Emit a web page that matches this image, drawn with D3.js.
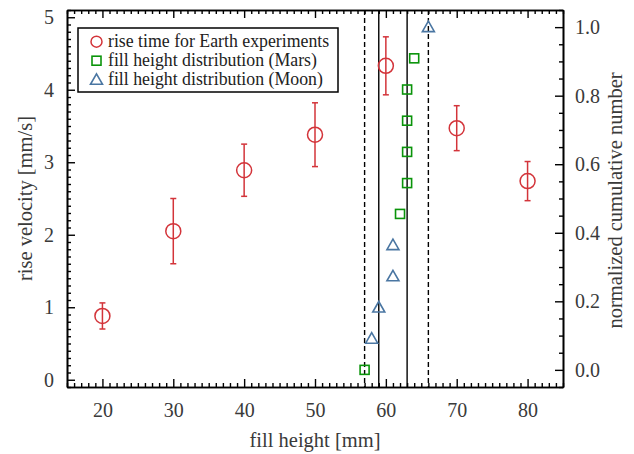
<!DOCTYPE html>
<html><head><meta charset="utf-8">
<script src="https://cdn.jsdelivr.net/npm/d3@7"></script>
<style>body{margin:0;background:#fff}svg{display:block}text{font-family:"Liberation Serif","DejaVu Serif",serif}</style>
</head><body>
<script>
// Data
const earthHeight = [20, 30, 40, 50, 60, 70, 80];
const earthVelocity = [0.88, 2.05, 2.89, 3.38, 4.33, 3.47, 2.74];
const earthError = [0.18, 0.45, 0.36, 0.44, 0.40, 0.31, 0.27];
const marsHeight = [57, 62, 63, 63, 63, 63, 64];
const marsCum = [0.0, 0.455, 0.545, 0.636, 0.727, 0.818, 0.909];
const moonHeight = [58, 59, 61, 61, 66];
const moonCum = [0.091, 0.182, 0.273, 0.364, 1.0];
const solidLines = [59, 63];
const dashedLines = [57, 66];
const xTicks = [20, 30, 40, 50, 60, 70, 80];
const yLeftTicks = [0, 1, 2, 3, 4, 5];
const yRightTicks = [0.0, 0.2, 0.4, 0.6, 0.8, 1.0];
const legendLabels = ["rise time for Earth experiments", "fill height distribution (Mars)", "fill height distribution (Moon)"];

const W = 634, H = 454;
const m = {l: 67, r: 634 - 563, t: 10, b: 454 - 387};
const red = "#d3343a", green = "#0a940a", blue = "#4a76a2", txt = "#3a3a3a";

const svg = d3.select("body").append("svg").attr("width", W).attr("height", H);
const x = d3.scaleLinear().domain([15, 85]).range([m.l, W - m.r]);
const yL = d3.scaleLinear().domain([-0.1, 5.1]).range([H - m.b, m.t]);
const yR = d3.scaleLinear().domain([-0.05, 1.05]).range([H - m.b, m.t]);

// vertical reference lines
const g = svg.append("g");
g.selectAll("line.solid").data(solidLines).join("line")
  .attr("x1", d => x(d)).attr("x2", d => x(d)).attr("y1", m.t).attr("y2", H - m.b)
  .attr("stroke", "#000").attr("stroke-width", 1.4);
g.selectAll("line.dash").data(dashedLines).join("line")
  .attr("x1", d => x(d)).attr("x2", d => x(d)).attr("y1", m.t).attr("y2", H - m.b)
  .attr("stroke", "#000").attr("stroke-width", 1.4).attr("stroke-dasharray", "5,3");

// axes
const tickFont = 20;
function style(sel) {
  sel.selectAll("path").attr("stroke", "#000").attr("stroke-width", 1.6);
  sel.selectAll("line").attr("stroke", "#000").attr("stroke-width", 1.4);
  sel.selectAll("text").attr("fill", txt).attr("font-size", tickFont).attr("font-family", "Liberation Serif");
}
const xMinor = d3.range(15, 86, 1).filter(v => v % 10 !== 0);
const yLMinor = d3.range(-1, 52).map(v => v / 10).filter(v => Math.abs(v - Math.round(v)) > 1e-6 && v >= -0.1 && v <= 5.1);
const yRMinor = d3.range(-1, 22).map(v => v / 20).filter(v => Math.abs(v * 5 - Math.round(v * 5)) > 1e-6);

// bottom
svg.append("g").attr("transform", `translate(0,${H - m.b})`)
  .call(d3.axisBottom(x).tickValues(xTicks).tickSize(-8).tickPadding(16).tickSizeOuter(0).tickFormat(d3.format("d"))).call(style);
svg.append("g").attr("transform", `translate(0,${H - m.b})`)
  .call(d3.axisBottom(x).tickValues(xMinor).tickSize(-4).tickFormat("").tickSizeOuter(0)).call(style);
// top
svg.append("g").attr("transform", `translate(0,${m.t})`)
  .call(d3.axisTop(x).tickValues(xTicks).tickSize(-8).tickFormat("").tickSizeOuter(0)).call(style);
svg.append("g").attr("transform", `translate(0,${m.t})`)
  .call(d3.axisTop(x).tickValues(xMinor).tickSize(-4).tickFormat("").tickSizeOuter(0)).call(style);
// left
svg.append("g").attr("transform", `translate(${m.l},0)`)
  .call(d3.axisLeft(yL).tickValues(yLeftTicks).tickSize(-8).tickPadding(13).tickSizeOuter(0).tickFormat(d3.format("d"))).call(style);
svg.append("g").attr("transform", `translate(${m.l},0)`)
  .call(d3.axisLeft(yL).tickValues(yLMinor).tickSize(-4).tickFormat("").tickSizeOuter(0)).call(style);
// right
svg.append("g").attr("transform", `translate(${W - m.r},0)`)
  .call(d3.axisRight(yR).tickValues(yRightTicks).tickSize(-8).tickPadding(12).tickSizeOuter(0).tickFormat(d3.format(".1f"))).call(style);
svg.append("g").attr("transform", `translate(${W - m.r},0)`)
  .call(d3.axisRight(yR).tickValues(yRMinor).tickSize(-4).tickFormat("").tickSizeOuter(0)).call(style);

// axis titles
const titleFont = 20.5;
svg.append("text").attr("x", (m.l + W - m.r) / 2).attr("y", 447).attr("text-anchor", "middle")
  .attr("font-size", titleFont).attr("fill", txt).text("fill height [mm]");
svg.append("text").attr("transform", `translate(32,${(m.t + H - m.b) / 2}) rotate(-90)`).attr("text-anchor", "middle")
  .attr("font-size", titleFont).attr("fill", txt).text("rise velocity [mm/s]");
svg.append("text").attr("transform", `translate(622,${(m.t + H - m.b) / 2 + 2}) rotate(-90)`).attr("text-anchor", "middle")
  .attr("font-size", titleFont).attr("fill", txt).text("normalized cumulative number");

// Earth points with error bars
const earth = earthHeight.map((h, i) => ({h, v: earthVelocity[i], e: earthError[i]}));
const eg = svg.append("g").attr("stroke", red).attr("stroke-width", 1.5).attr("fill", "none");
eg.selectAll("line.eb").data(earth).join("line")
  .attr("x1", d => x(d.h)).attr("x2", d => x(d.h)).attr("y1", d => yL(d.v + d.e)).attr("y2", d => yL(d.v - d.e));
eg.selectAll("line.cu").data(earth).join("line")
  .attr("x1", d => x(d.h) - 3).attr("x2", d => x(d.h) + 3).attr("y1", d => yL(d.v + d.e)).attr("y2", d => yL(d.v + d.e));
eg.selectAll("line.cl").data(earth).join("line")
  .attr("x1", d => x(d.h) - 3).attr("x2", d => x(d.h) + 3).attr("y1", d => yL(d.v - d.e)).attr("y2", d => yL(d.v - d.e));
eg.selectAll("circle").data(earth).join("circle")
  .attr("cx", d => x(d.h)).attr("cy", d => yL(d.v)).attr("r", 7.5).attr("fill", "none");

// Mars squares
const mars = marsHeight.map((h, i) => ({h, v: marsCum[i]}));
svg.append("g").selectAll("rect").data(mars).join("rect")
  .attr("x", d => x(d.h) - 4.5).attr("y", d => yR(d.v) - 4.5).attr("width", 9).attr("height", 9)
  .attr("fill", "none").attr("stroke", green).attr("stroke-width", 1.6);

// Moon triangles
const moon = moonHeight.map((h, i) => ({h, v: moonCum[i]}));
const tri = "M0,-6L6,4.5L-6,4.5Z";
svg.append("g").selectAll("path").data(moon).join("path")
  .attr("transform", d => `translate(${x(d.h)},${yR(d.v)})`).attr("d", tri)
  .attr("fill", "none").attr("stroke", blue).attr("stroke-width", 1.6);

// Legend
const lg = svg.append("g");
lg.append("rect").attr("x", 78).attr("y", 28).attr("width", 260).attr("height", 64)
  .attr("fill", "#fff").attr("stroke", "#000").attr("stroke-width", 1.5);
const rows = [41.7, 60.7, 79.3];
lg.append("circle").attr("cx", 96.5).attr("cy", rows[0]).attr("r", 5.5).attr("fill", "none").attr("stroke", red).attr("stroke-width", 1.5);
lg.append("rect").attr("x", 92).attr("y", rows[1] - 4.5).attr("width", 9).attr("height", 9).attr("fill", "none").attr("stroke", green).attr("stroke-width", 1.6);
lg.append("path").attr("transform", `translate(96.5,${rows[2] + 0.5})`).attr("d", tri).attr("fill", "none").attr("stroke", blue).attr("stroke-width", 1.6);
lg.selectAll("text").data(legendLabels).join("text")
  .attr("x", 108).attr("y", (d, i) => rows[i] + 5.5).attr("font-size", 17.8).attr("fill", "#222").text(d => d);
</script>
</body></html>
